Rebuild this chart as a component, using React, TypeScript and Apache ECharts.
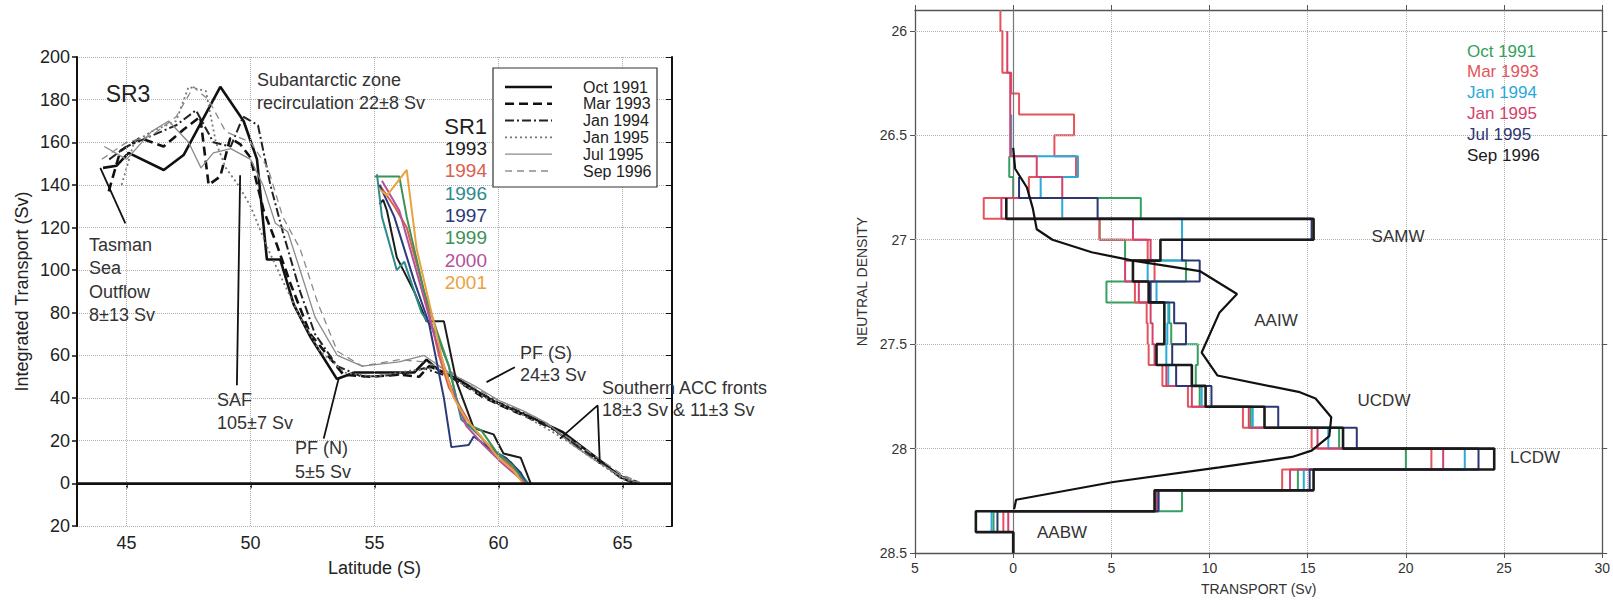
import { useEffect, useRef } from "react";
import * as echarts from "echarts";

// ---------- Left panel: cumulative transport vs latitude ----------
// SR3 occupations, points are [latitude °S, integrated transport Sv]
const sr3Names = ["Oct 1991", "Mar 1993", "Jan 1994", "Jan 1995", "Jul 1995", "Sep 1996"];
const sr3Oct1991 = [[44.05,148],[44.6,149],[45.08,155],[46.5,147],[47.3,154],[48.78,186],[49.72,170],[50.26,152],[50.66,105],[51.2,105],[51.74,84],[52.4,69],[53.48,49],[54.2,52],[55.5,52],[56.6,52],[57.1,58],[57.6,53],[58.5,48],[59.3,42],[59.9,38],[60.7,34],[61.5,30],[62.6,24],[63.5,16],[64.3,9],[64.9,3],[65.4,0.5]];
const sr3Mar1993 = [[44.28,137],[44.75,156],[45.55,162],[46.49,158],[47.3,166],[47.97,172],[48.31,140],[48.78,144],[49.18,162],[49.59,159],[49.99,153],[50.53,128],[51.06,112],[51.6,94],[52.41,70],[53.75,51],[54.83,50],[56.0,51],[56.8,50],[57.2,55],[57.8,52],[58.5,47],[59.3,41],[60.2,36],[61.2,31],[62.3,25],[63.3,16],[64.2,9],[65.0,3],[65.6,0.5]];
const sr3Jan1994 = [[44.3,152],[45.0,158],[46.0,163],[47.0,168],[47.8,175],[48.5,160],[49.2,158],[49.7,172],[50.3,168],[50.8,140],[51.3,118],[52.0,90],[52.6,70],[53.5,55],[54.5,50],[56.0,51],[57.0,54],[58.0,50],[59.0,44],[60.0,38],[61.0,33],[62.0,27],[63.0,19],[64.0,11],[65.0,3],[65.5,0.5]];
const sr3Jan1995 = [[44.8,140],[45.3,160],[46.0,165],[47.0,170],[47.5,186],[48.2,184],[48.6,160],[49.0,148],[49.5,140],[50.0,130],[50.7,110],[51.3,95],[52.0,78],[52.8,62],[53.8,52],[55.0,50],[56.5,53],[57.5,54],[58.5,47],[59.5,40],[61.0,32],[62.5,22],[64.0,10],[65.0,2],[65.5,0.5]];
const sr3Jul1995 = [[44.1,158],[45.0,152],[46.0,165],[46.7,170],[47.5,160],[48.0,148],[48.5,155],[49.2,157],[50.0,152],[50.5,140],[51.0,122],[51.5,118],[52.0,100],[52.6,78],[53.5,60],[54.5,55],[56.0,57],[57.0,60],[58.0,52],[59.0,46],[60.0,39],[61.0,34],[62.0,28],[63.0,18],[64.0,10],[65.0,3],[65.6,0.5]];
const sr3Sep1996 = [[44.0,152],[45.0,160],[46.0,163],[47.0,172],[47.7,186],[48.3,180],[49.0,165],[50.0,160],[50.7,148],[51.3,125],[52.0,110],[52.7,85],[53.5,62],[54.5,55],[56.0,58],[57.0,57],[58.0,53],[59.0,45],[60.0,39],[61.5,31],[63.0,20],[64.0,12],[65.0,4],[65.7,0.5]];

// SR1 occupations (Drake Passage)
const sr1Years = ["1993", "1994", "1996", "1997", "1999", "2000", "2001"];
const sr1Y1993 = [[55.2,131],[55.35,133],[55.5,128],[55.9,106],[56.6,90],[57.1,76],[57.8,76],[58.3,48],[59.0,26],[59.8,23],[60.2,14],[60.9,12],[61.3,0]];
const sr1Y1994 = [[55.2,140],[55.8,130],[56.3,120],[57.0,90],[57.6,60],[58.0,45],[58.5,35],[59.0,25],[59.6,18],[60.3,10],[60.8,5],[61.0,0]];
const sr1Y1996 = [[55.1,145],[55.3,125],[55.9,100],[56.2,104],[56.9,80],[57.5,70],[58.0,55],[58.5,30],[59.3,22],[59.7,15],[60.5,10],[61.0,3],[61.2,0]];
const sr1Y1997 = [[55.2,140],[55.8,125],[56.6,95],[57.2,75],[57.8,40],[58.1,17],[58.8,18],[59.0,22],[59.7,16],[60.3,12],[60.9,5],[61.1,0]];
const sr1Y1999 = [[55.0,144],[56.0,144],[56.3,125],[57.0,90],[57.5,72],[58.0,55],[58.3,40],[58.7,28],[59.3,25],[59.9,15],[60.6,8],[61.1,0]];
const sr1Y2000 = [[55.3,142],[56.0,128],[56.8,95],[57.4,70],[58.0,48],[58.7,27],[59.4,18],[60.2,9],[60.9,2],[61.1,0]];
const sr1Y2001 = [[55.2,138],[55.5,135],[56.3,147],[56.7,110],[57.3,80],[57.8,55],[58.2,40],[58.7,30],[59.3,22],[60.0,12],[60.6,6],[61.0,0]];

// Front pointers, in [latitude, transport]
const tasmanPointer = [[43.94,148],[44.95,122]];
const safPointer = [[49.58,144.5],[49.45,46]];
const pfnPointer = [[53.55,49],[52.95,21]];
const pfsPointer = [[59.52,47.5],[60.66,54.5]];
const accPointer = [[62.48,21],[64.0,36.6],[64.09,9.2]];

const latTicks = [45, 50, 55, 60, 65];

// ---------- Right panel: transport in neutral density classes ----------
const densityEdges = [25.9,26.0,26.1,26.2,26.3,26.4,26.5,26.6,26.7,26.8,26.9,27.0,27.1,27.2,27.3,27.4,27.5,27.6,27.7,27.8,27.9,28.0,28.1,28.2,28.3,28.4,28.5];
const densityTicks = [26, 26.5, 27, 27.5, 28, 28.5];
// null = no transport reported in that class
const transportOct1991 = [null,null,null,null,null,null,null,-0.2,0,6.5,4.4,5.7,8.8,4.75,7.95,8.05,9.4,9.3,9.5,12.1,16.6,20.0,14.5,8.6,-1.0,0];
const transportMar1993 = [-0.65,-0.55,-0.55,-0.1,0.3,3.1,2.1,3.2,0.8,-1.5,4.4,6.85,7.2,6.2,6.8,6.85,6.9,7.6,8.9,11.7,15.2,21.3,13.7,7.3,-0.5,0];
const transportJan1994 = [null,null,null,null,null,-0.1,-0.1,3.3,1.4,2.5,8.6,8.6,6.85,7.3,7.9,7.85,7.8,7.9,9.6,12.2,16.05,23.0,14.8,7.4,-1.1,0];
const transportJan1995 = [null,-0.3,-0.3,-0.15,-0.15,-0.15,-0.15,1.2,2.5,-0.6,6.1,7.0,5.7,6.4,7.0,7.1,7.2,7.8,9.1,12.0,15.5,21.9,14.1,7.3,-0.25,0];
const transportJul1995 = [null,null,null,null,null,null,null,null,0.3,4.3,15.2,8.6,9.5,7.0,8.2,8.8,8.1,8.3,10.1,13.5,17.5,23.7,15.1,7.4,-0.8,0];
const transportSep1996 = [null,null,null,null,null,null,null,null,null,-0.35,15.3,7.5,6.1,6.9,7.7,7.7,7.3,9.1,9.8,12.8,16.8,24.5,15.3,7.2,-1.9,0];
// Continuous profile, [transport Sv, neutral density]
const profileCurve = [[0.05,28.29],[0.15,28.245],[5.1,28.16],[10.5,28.09],[14.2,28.04],[15.2,28.01],[16.1,27.94],[16.2,27.85],[15.4,27.76],[14.6,27.73],[10.4,27.65],[9.6,27.54],[10.5,27.35],[11.4,27.26],[9.5,27.15],[6.1,27.1],[4.0,27.06],[2.0,27.0],[1.2,26.95],[1.0,26.85],[0.7,26.75],[0.1,26.66],[0.0,26.56]];

const FONT = "'Liberation Sans', Arial, Helvetica, sans-serif";

const sr3Data = [sr3Oct1991, sr3Mar1993, sr3Jan1994, sr3Jan1995, sr3Jul1995, sr3Sep1996];
const sr3Styles = [
  { color: "#111", width: 2.6, type: "solid" as any },
  { color: "#111", width: 2.6, type: [9, 5] as any },
  { color: "#222", width: 2, type: [9, 3, 2, 3] as any },
  { color: "#777", width: 1.8, type: [2, 3] as any },
  { color: "#8a8a8a", width: 1.3, type: "solid" as any },
  { color: "#8a8a8a", width: 1.3, type: [7, 5] as any },
];
const sr1Data = [sr1Y1993, sr1Y1994, sr1Y1996, sr1Y1997, sr1Y1999, sr1Y2000, sr1Y2001];
const sr1Colors = ["#1c1c1c", "#d9604e", "#2e8a8c", "#2b3a78", "#3d9156", "#b4509c", "#eaa23e"];

const densNames = sr3Names;
const densData = [transportOct1991, transportMar1993, transportJan1994, transportJan1995, transportJul1995, transportSep1996];
const densColors = ["#35a060", "#e5535b", "#2aaad8", "#d4416b", "#2c3673", "#1a1a1a"];
const densWidths = [2, 2, 2, 2, 2, 2.6];

// Stair outline of a class histogram: vertical at each value across its
// density class, joined by horizontals on the class edges.
function stepOutline(values: (number | null)[]): number[][] {
  const pts: number[][] = [];
  values.forEach((v, i) => {
    if (v === null) return;
    pts.push([v, densityEdges[i]]);
    pts.push([v, densityEdges[i + 1]]);
  });
  return pts;
}

const absLabel = (v: number) => String(Math.abs(v));

export default function App() {
  const ref = useRef<HTMLDivElement>(null);

  useEffect(() => {
    if (!ref.current) return;
    const chart = echarts.init(ref.current, undefined, { renderer: "svg" });

    const gridDot = { type: "dotted" as any, color: "#b0b0b0", width: 1 };
    const leftAxisLine = { show: true, lineStyle: { color: "#111", width: 2 } };
    const rightAxisLine = { show: true, lineStyle: { color: "#555", width: 1.3 } };

    const series: any[] = [];

    // left panel gridlines + zero line
    series.push({
      type: "line", xAxisIndex: 0, yAxisIndex: 0, data: [], silent: true,
      markLine: {
        silent: true, symbol: ["none", "none"], label: { show: false },
        lineStyle: gridDot,
        data: [
          ...latTicks.map((x) => ({ xAxis: x })),
          { yAxis: 0, lineStyle: { type: "solid", color: "#111", width: 2.6 } },
        ],
      },
    });

    sr3Data.forEach((d, i) => {
      series.push({
        name: sr3Names[i], type: "line", xAxisIndex: 0, yAxisIndex: 0,
        data: d, symbol: "none", lineStyle: sr3Styles[i], z: 3,
      });
    });
    sr1Data.forEach((d, i) => {
      series.push({
        name: "SR1 " + sr1Years[i], type: "line", xAxisIndex: 0, yAxisIndex: 0,
        data: d, symbol: "none", lineStyle: { color: sr1Colors[i], width: 2 }, z: 4,
      });
    });
    [tasmanPointer, safPointer, pfnPointer, pfsPointer, accPointer].forEach((d) => {
      series.push({
        type: "line", xAxisIndex: 0, yAxisIndex: 0, data: d, symbol: "none",
        lineStyle: { color: "#111", width: 1.8 }, z: 5, silent: true,
      });
    });

    // right panel gridlines + zero line
    series.push({
      type: "line", xAxisIndex: 2, yAxisIndex: 2, data: [], silent: true,
      markLine: {
        silent: true, symbol: ["none", "none"], label: { show: false },
        lineStyle: gridDot,
        data: [
          ...densityTicks.slice(0, 5).map((y) => ({ yAxis: y })),
          { xAxis: 0, lineStyle: { type: "solid", color: "#777", width: 1.2 } },
        ],
      },
    });
    densData.forEach((vals, i) => {
      series.push({
        name: densNames[i], type: "line", xAxisIndex: 2, yAxisIndex: 2,
        data: stepOutline(vals), symbol: "none",
        lineStyle: { color: densColors[i], width: densWidths[i] }, z: 3 + i,
      });
    });
    series.push({
      name: "profile", type: "line", xAxisIndex: 2, yAxisIndex: 2,
      data: profileCurve, symbol: "none",
      lineStyle: { color: "#111", width: 2.2 }, z: 10,
    });

    const text = (t: string, x: number, y: number, size: number, color = "#222", align = "left") => ({
      type: "text", z: 100, x, y,
      style: { text: t, fill: color, font: `${size}px ${FONT}`, textAlign: align, textVerticalAlign: "middle" },
    });

    const graphics: any[] = [];
    // left panel annotations
    graphics.push(text("SR3", 128, 94, 23, "#222", "center"));
    graphics.push(text("Subantarctic zone", 257, 80, 18, "#333"));
    graphics.push(text("recirculation 22±8 Sv", 257, 103, 18, "#333"));
    ["Tasman", "Sea", "Outflow", "8±13 Sv"].forEach((t, i) => graphics.push(text(t, 89, 245 + 23.3 * i, 18, "#333")));
    graphics.push(text("SAF", 217, 400, 18, "#333"));
    graphics.push(text("105±7 Sv", 217, 423, 18, "#333"));
    graphics.push(text("PF (N)", 295, 448, 18, "#333"));
    graphics.push(text("5±5 Sv", 295, 472, 18, "#333"));
    graphics.push(text("PF (S)", 520, 353, 18, "#333"));
    graphics.push(text("24±3 Sv", 520, 375, 18, "#333"));
    graphics.push(text("Southern ACC fronts", 602, 388, 18, "#333"));
    graphics.push(text("18±3 Sv & 11±3 Sv", 602, 410, 18, "#333"));
    graphics.push(text("SR1", 487, 126, 22, "#222", "right"));
    sr1Years.forEach((y, i) => graphics.push(text(y, 487, 148.5 + 22.3 * i, 19, sr1Colors[i], "right")));

    // left panel legend box
    graphics.push({
      type: "rect", z: 90, shape: { x: 493, y: 68, width: 164, height: 119 },
      style: { fill: "#fff", stroke: "#333", lineWidth: 1.2 },
    });
    sr3Names.forEach((n, i) => {
      const yy = 87 + 16.8 * i;
      graphics.push({
        type: "line", z: 95, shape: { x1: 505, y1: yy, x2: 552, y2: yy },
        style: {
          stroke: sr3Styles[i].color, lineWidth: sr3Styles[i].width,
          lineDash: Array.isArray(sr3Styles[i].type) ? sr3Styles[i].type : null,
        },
      });
      graphics.push(text(n, 583, yy, 16, "#222"));
    });

    // right panel annotations
    graphics.push(text("SAMW", 1398, 236, 17, "#333", "center"));
    graphics.push(text("AAIW", 1276, 320, 17, "#333", "center"));
    graphics.push(text("UCDW", 1384, 400, 17, "#333", "center"));
    graphics.push(text("LCDW", 1535, 457, 17, "#333", "center"));
    graphics.push(text("AABW", 1062, 532, 17, "#333", "center"));
    densNames.forEach((n, i) => graphics.push(text(n, 1467, 51 + 20.8 * i, 17, densColors[i])));

    chart.setOption({
      animation: false,
      backgroundColor: "#fff",
      grid: [
        { left: 77, top: 57, width: 595, height: 469 },
        { left: 915, top: 10, width: 692, height: 543 },
      ],
      xAxis: [
        {
          gridIndex: 0, type: "value", min: 43, max: 67, position: "bottom",
          axisLine: leftAxisLine,
          axisTick: { customValues: latTicks, length: 5, lineStyle: { color: "#111", width: 1.5 } },
          axisLabel: { customValues: latTicks, fontSize: 18, color: "#222", margin: 8, fontFamily: FONT },
          splitLine: { show: false },
          name: "Latitude (S)", nameLocation: "middle", nameGap: 33,
          nameTextStyle: { fontSize: 18, color: "#222", fontFamily: FONT },
        },
        {
          gridIndex: 0, type: "value", min: 43, max: 67, position: "top",
          axisLine: leftAxisLine,
          axisTick: { customValues: latTicks, inside: true, length: 5, lineStyle: { color: "#111" } },
          axisLabel: { show: false }, splitLine: { show: false },
        },
        {
          gridIndex: 1, type: "value", min: -5, max: 30, interval: 5, position: "bottom",
          axisLine: { ...rightAxisLine, onZero: false },
          axisTick: { length: 5, lineStyle: { color: "#555" } },
          axisLabel: { fontSize: 14, color: "#333", margin: 8, fontFamily: FONT, formatter: absLabel },
          splitLine: { show: true, lineStyle: gridDot },
          name: "TRANSPORT (Sv)", nameLocation: "middle", nameGap: 29,
          nameTextStyle: { fontSize: 14, color: "#333", fontFamily: FONT },
        },
        {
          gridIndex: 1, type: "value", min: -5, max: 30, interval: 5, position: "top",
          axisLine: { ...rightAxisLine, onZero: false },
          axisTick: { length: 5, lineStyle: { color: "#555" } },
          axisLabel: { show: false }, splitLine: { show: false },
        },
      ],
      yAxis: [
        {
          gridIndex: 0, type: "value", min: -20, max: 200, interval: 20, position: "left",
          axisLine: { ...leftAxisLine, onZero: false },
          axisTick: { length: 5, lineStyle: { color: "#111", width: 1.5 } },
          axisLabel: { fontSize: 18, color: "#222", margin: 7, fontFamily: FONT, formatter: absLabel },
          splitLine: { show: true, lineStyle: gridDot },
          name: "Integrated Transport (Sv)", nameLocation: "middle", nameGap: 46,
          nameTextStyle: { fontSize: 18, color: "#222", fontFamily: FONT },
        },
        {
          gridIndex: 0, type: "value", min: -20, max: 200, interval: 20, position: "right",
          axisLine: { ...leftAxisLine, onZero: false },
          axisTick: { inside: true, length: 6, lineStyle: { color: "#111" } },
          axisLabel: { show: false }, splitLine: { show: false },
        },
        {
          gridIndex: 1, type: "value", min: 25.9, max: 28.5, inverse: true, position: "left",
          axisLine: { ...rightAxisLine, onZero: false },
          axisTick: { customValues: densityTicks, length: 5, lineStyle: { color: "#555" } },
          axisLabel: { customValues: densityTicks, fontSize: 14, color: "#333", margin: 8, fontFamily: FONT },
          splitLine: { show: false },
          name: "NEUTRAL DENSITY", nameLocation: "middle", nameGap: 46,
          nameTextStyle: { fontSize: 14, color: "#333", fontFamily: FONT },
        },
        {
          gridIndex: 1, type: "value", min: 25.9, max: 28.5, inverse: true, position: "right",
          axisLine: { ...rightAxisLine, onZero: false },
          axisTick: { customValues: densityTicks, length: 5, lineStyle: { color: "#555" } },
          axisLabel: { show: false }, splitLine: { show: false },
        },
      ],
      series,
      graphic: graphics,
    });

    return () => chart.dispose();
  }, []);

  return (
    <div
      ref={ref}
      style={{ position: "absolute", left: 0, top: 0, width: 1613, height: 601, background: "#fff" }}
    />
  );
}
